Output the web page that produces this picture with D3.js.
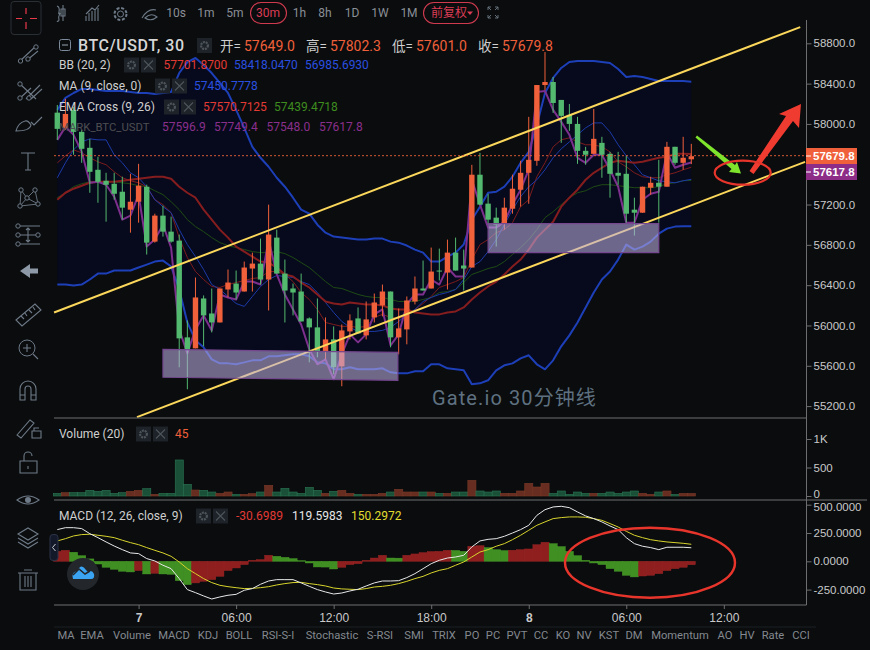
<!DOCTYPE html>
<html><head><meta charset="utf-8">
<script src="https://cdnjs.cloudflare.com/ajax/libs/d3/7.8.5/d3.min.js"></script>
<style>html,body{margin:0;padding:0;background:#0a0c0e;overflow:hidden}svg{display:block}</style>
</head><body><div id="c"></div>
<script>
// ---------- data ----------
const opens=[58112,57961,58139,57921,57763,57545,57436,57406,57327,57149,57228,57377,56832,57090,56931,56842,55882,55773,56268,56119,56030,56357,56416,56337,56565,56614,56456,56872,56515,56367,56337,56070,55981,55743,55862,55595,55941,56070,55902,56080,56199,56337,55882,55961,56238,56367,56367,56545,56525,56723,56595,56575,57496,57209,57070,57010,57159,57347,57515,57634,58386,58416,58238,58090,58000,57733,57703,57812,57703,57515,57505,57149,57119,57367,57416,57377,57773,57614,57649];
const closes=[57951,58099,57921,57753,57525,57426,57396,57307,57169,57228,57387,56822,57090,56931,56832,55872,55763,56278,56100,56030,56367,56426,56327,56575,56614,56456,56902,56515,56347,56327,56040,55981,55743,55862,55585,55951,56050,55921,56060,56228,56337,55882,55971,56248,56367,56347,56535,56535,56723,56545,56565,57496,57199,57050,57000,57169,57357,57515,57644,58386,58416,58208,58080,58000,57733,57694,57852,57694,57505,57486,57109,57119,57377,57416,57377,57773,57614,57664,57679.8];
const highs=[58188,58248,58169,57941,57852,57674,57515,57515,57476,57505,57604,57397,57109,57189,57080,56902,56050,56476,56298,56367,56367,56555,56545,56634,56723,56862,57199,56951,56654,56416,56515,56080,56268,56080,55991,56010,56110,56179,56238,56317,56406,56337,56169,56288,56486,56644,56773,56763,56852,56872,56753,57594,57713,57307,57169,57268,57496,57634,58070,58386,58713,58466,58238,58198,58070,57773,58149,57872,57723,57723,57684,57268,57377,57476,57644,57822,57773,57872,57802.3];
const lows=[57842,57941,57694,57614,57317,57218,57030,57248,57050,56921,57020,56704,56822,56882,56822,55585,55367,55773,55793,55931,56030,56278,56258,56337,56337,56406,56149,56515,56030,56100,56040,55634,55684,55664,55515,55397,55862,55921,55862,56030,56090,55783,55713,55813,56209,56347,56367,56446,56357,56545,56347,56575,57199,57000,56783,56951,57109,57179,57208,57585,58337,58109,57812,57931,57604,57595,57703,57466,57268,57396,57020,56892,57119,57297,57020,57377,57595,57545,57601];
const volumes=[47,58,58,58,100,82,100,47,58,82,100,129,29,47,47,632,205,105,100,70,47,70,29,29,41,70,187,70,135,70,47,152,100,47,82,100,47,29,29,29,47,70,117,70,70,70,70,47,47,70,70,275,88,70,88,47,47,88,222,158,222,47,88,29,70,47,47,47,70,47,70,88,47,29,70,88,29,45,45];
const bbUpper=[58139,58258,58307,58347,58347,58337,58327,58327,58327,58317,58307,58307,58297,58307,58317,58505,58614,58654,58585,58505,58406,58307,58139,57961,57773,57664,57575,57466,57377,57268,57149,57109,57000,56921,56882,56872,56862,56852,56852,56862,56862,56832,56822,56793,56753,56723,56634,56634,56684,56723,56803,57050,57179,57317,57327,57377,57476,57614,57723,57990,58307,58456,58555,58614,58624,58624,58624,58614,58604,58545,58466,58476,58466,58446,58426,58426,58426,58426,58418];
const bbMid=[57248,57317,57357,57387,57416,57426,57426,57426,57436,57446,57456,57466,57476,57476,57456,57377,57317,57268,57149,57050,56951,56872,56783,56733,56684,56634,56624,56575,56506,56486,56426,56377,56308,56238,56218,56209,56228,56218,56209,56209,56199,56169,56159,56159,56129,56119,56110,56110,56129,56139,56179,56258,56327,56387,56436,56506,56585,56654,56753,56872,56951,57030,57179,57268,57347,57446,57515,57565,57614,57634,57624,57614,57624,57644,57664,57674,57703,57703,57702];
const bbLower=[56406,56406,56397,56406,56456,56515,56515,56545,56545,56545,56575,56604,56634,56644,56585,56357,56030,55852,55783,55664,55624,55624,55615,55634,55654,55654,55694,55694,55704,55714,55714,55694,55634,55624,55565,55565,55585,55565,55565,55565,55575,55535,55525,55525,55545,55545,55615,55615,55575,55565,55555,55417,55426,55456,55555,55605,55624,55674,55704,55615,55565,55654,55793,55902,56030,56179,56327,56456,56535,56654,56803,56753,56783,56832,56911,56961,56981,56985.7,56985.7];
const ma9=[57466,57614,57743,57822,57852,57842,57842,57694,57614,57515,57466,57377,57248,57179,57119,56951,56803,56684,56555,56406,56357,56288,56218,56189,56288,56387,56456,56496,56486,56476,56436,56406,56327,56228,56129,56040,55981,55941,55941,55941,55951,55981,56040,56110,56159,56238,56278,56308,56327,56357,56456,56585,56634,56733,56852,57000,57149,57278,57377,57446,57545,57664,57753,57822,57892,57961,58010,58010,57921,57793,57684,57595,57496,57466,57436,57426,57416,57436,57450.8];
const ema9=[57614,57684,57743,57713,57664,57624,57595,57525,57466,57436,57416,57377,57248,57199,57119,56872,56674,56535,56456,56387,56377,56406,56426,56446,56466,56476,56535,56535,56506,56436,56327,56258,56159,56030,56010,55991,55991,55981,55991,56080,56110,56080,56070,56100,56159,56218,56288,56377,56406,56436,56476,56654,56803,56852,56921,56951,57020,57179,57248,57476,57614,57773,57842,57862,57822,57793,57793,57773,57723,57624,57575,57515,57476,57466,57466,57496,57515,57545,57570.7];
const ema26=[57268,57317,57377,57406,57426,57426,57426,57426,57416,57406,57387,57377,57337,57298,57228,57149,57050,56981,56931,56872,56822,56793,56773,56753,56733,56723,56723,56733,56713,56674,56624,56575,56506,56436,56377,56367,56337,56308,56288,56278,56278,56258,56238,56238,56238,56258,56278,56327,56337,56357,56426,56506,56535,56565,56585,56634,56704,56773,56852,56951,57070,57129,57199,57268,57317,57337,57377,57397,57397,57387,57377,57367,57367,57367,57377,57406,57416,57436,57439.5];
const markClose=[57842,57971,57892,57723,57416,57426,57397,57278,57050,57090,57298,56783,56852,57000,56773,55961,55723,55961,56100,55951,56308,56278,56258,56436,56436,56406,56852,56506,56308,56159,56010,55763,55615,55664,55466,55714,55912,55832,55912,56110,56159,55803,55912,56209,56308,56308,56456,56406,56575,56486,56486,57446,57199,56971,56971,57030,57199,57347,57545,58317,58327,58139,58020,57892,57664,57614,57694,57694,57545,57377,57020,57020,57248,57307,57327,57713,57565,57595,57617.8];
const macdHist=[88,97,80,50,21,-24,-53,-71,-88,-94,-82,-112,-106,-112,-115,-171,-206,-191,-177,-162,-133,-82,-59,-29,9,15,53,44,35,24,6,-15,-50,-51,-68,-53,-29,-21,9,29,53,29,28,53,65,77,86,88,97,96,88,133,138,121,103,95,98,103,109,147,168,156,130,88,50,9,-15,-29,-65,-88,-124,-138,-130,-124,-109,-82,-65,-53,-30.7];
const macdLine=[280,297,297,289,244,209,171,135,103,74,68,24,3,-35,-65,-153,-250,-277,-306,-333,-315,-300,-292,-256,-241,-203,-174,-162,-162,-162,-191,-221,-250,-271,-289,-280,-262,-247,-218,-191,-174,-174,-171,-144,-109,-65,-21,9,29,38,53,127,180,194,200,221,250,280,318,406,456,480,486,474,436,401,377,348,312,280,209,156,133,121,103,124,124,124,119.6];
const macdSignal=[180,200,224,236,239,230,221,209,186,165,147,121,97,74,44,-6,-65,-109,-153,-188,-212,-224,-233,-241,-239,-233,-224,-209,-197,-188,-186,-197,-206,-218,-236,-244,-247,-250,-241,-227,-221,-212,-197,-177,-153,-133,-103,-80,-65,-35,-6,38,82,103,133,156,191,230,274,318,348,377,386,392,392,389,377,362,333,303,265,230,209,191,180,171,165,159,150.3];
const priceTicks=[58800,58400,58000,57200,56800,56400,56000,55600,55200];
const priceTickLabels=["58800.0","58400.0","58000.0","57200.0","56800.0","56400.0","56000.0","55600.0","55200.0"];
const volumeTicks=[0,500,1000];
const volumeTickLabels=["0","500","1K"];
const macdTicks=[500,250,0,-250];
const macdTickLabels=["500.0000","250.0000","0.0000","-250.0000"];
const timeTickBars=[10,22,34,46,58,70,82];
const timeTickLabels=["7","06:00","12:00","18:00","8","06:00","12:00"];
const channelUpper=[[-0.4,56129],[91.4,58961]];
const channelLower=[[9.8,55090],[92,57624]];
const zoneA=[[13,55763],[41.9,55733],[41.9,55456],[13,55486]];
const zoneB=[[53,57010],[74,57010],[74,56723],[53,56723]];
const intervals=["10s","1m","5m","30m","1h","8h","1D","1W","1M"];
const indicatorNames=["MA","EMA","Volume","MACD","KDJ","BOLL","RSI-S-I","Stochastic","S-RSI","SMI","TRIX","PO","PC","PVT","CC","KO","NV","KST","DM","Momentum","AO","HV","Rate","CCI"];

// ---------- layout ----------
const W=870,H=650,AX=806.5;
const UI="Roboto,'Noto Sans CJK SC',sans-serif", AXF="'Liberation Sans',Arial,sans-serif";
const ORANGE="#f0603a",GREEN="#53b96f",GRID="#6e6e6e",TXT="#c9c9c9";
const svg=d3.select("#c").append("svg").attr("width",W).attr("height",H).attr("viewBox",`0 0 ${W} ${H}`);
svg.append("rect").attr("width",W).attr("height",H).attr("fill","#0a0c0e");
const idx=d3.range(opens.length);
const x=d3.scaleLinear().domain([0,78]).range([57.3,691.3]);
const y=d3.scaleLinear().domain([55200,58800]).range([406.1,43.3]);
const yV=d3.scaleLinear().domain([0,1000]).range([496,439]);
const yM=d3.scaleLinear().domain([-250,500]).range([589.6,504.7]);

// main pane
const main=svg.append("g");
main.append("path").datum(idx).attr("fill","#070a1c")
  .attr("d",d3.area().x(i=>x(i)).y0(i=>y(bbLower[i])).y1(i=>y(bbUpper[i])));
function series(g,arr,col,w,scale=y){
  g.append("path").datum(arr).attr("fill","none").attr("stroke",col).attr("stroke-width",w)
   .attr("stroke-linejoin","round").attr("d",d3.line().x((d,i)=>x(i)).y(d=>scale(d)));
}
series(main,ema26,"#1e4a14",1);
series(main,ema9,"#7c1c1c",1);
series(main,ma9,"#1c3aa8",1);
series(main,bbMid,"#851d1f",2);
series(main,bbUpper,"#1d3fb8",2);
series(main,bbLower,"#1d3fb8",2);
series(main,markClose,"#7c2f8c",2);
const col=i=>closes[i]>=opens[i]?ORANGE:GREEN;
const candle=main.selectAll("g.k").data(idx).join("g").attr("class","k");
candle.append("line").attr("x1",i=>x(i)).attr("x2",i=>x(i)).attr("y1",i=>y(highs[i])).attr("y2",i=>y(lows[i])).attr("stroke",col).attr("stroke-width",1);
candle.append("rect").attr("x",i=>x(i)-2.7).attr("width",5.4)
  .attr("y",i=>y(Math.max(opens[i],closes[i])))
  .attr("height",i=>Math.max(1,Math.abs(y(opens[i])-y(closes[i])))).attr("fill",col);
const lineXY=d3.line().x(d=>x(d[0])).y(d=>y(d[1]));
[channelUpper,channelLower].forEach(c=>main.append("path").datum(c).attr("d",lineXY).attr("stroke","#fbd75b").attr("stroke-width",2).attr("fill","none"));
[zoneA,zoneB].forEach(z=>main.append("path").datum(z).attr("d",d=>lineXY(d)+"Z").attr("fill","rgba(188,174,225,0.57)").attr("stroke","#74478f").attr("stroke-width",1.2));
// last price
main.append("line").attr("x1",54).attr("x2",AX).attr("y1",y(closes[78])-.5).attr("y2",y(closes[78])-.5).attr("stroke",ORANGE).attr("stroke-width",1).attr("stroke-dasharray","2 2").attr("opacity",.9);
// watermark
svg.append("text").attr("x",432).attr("y",405).attr("fill","#5f7180").attr("font-family",UI).attr("font-size",20).attr("letter-spacing",1.1).text("Gate.io 30分钟线");

// volume pane
const vc=i=>closes[i]>=opens[i];
svg.append("g").selectAll("rect").data(idx).join("rect")
  .attr("x",i=>x(i)-4).attr("width",8.1).attr("y",i=>yV(volumes[i])).attr("height",i=>yV(0)-yV(volumes[i]))
  .attr("fill",i=>vc(i)?"#672d20":"#1b5038").attr("stroke",i=>vc(i)?"#7a3a28":"#2a7553").attr("stroke-width",.6);

// macd pane
const rising=i=>i<2||macdHist[i]>macdHist[i-1];
svg.append("g").selectAll("rect").data(idx).join("rect")
  .attr("x",i=>x(i)-4).attr("width",8.1).attr("y",i=>yM(Math.max(0,macdHist[i]))).attr("height",i=>Math.abs(yM(macdHist[i])-yM(0)))
  .attr("fill",i=>rising(i)?"#8f1e1e":"#3f8f22").attr("stroke",i=>rising(i)?"#a02828":"#4ba02c").attr("stroke-width",.4);
series(svg,macdSignal,"#d8d42c",1,yM);
series(svg,macdLine,"#e8e8e8",1,yM);

// axes frame
[[54,418,AX,418],[54,500,867,500],[54,605,AX,605],[AX,20,AX,605]].forEach(l=>svg.append("line").attr("x1",l[0]).attr("y1",l[1]).attr("x2",l[2]).attr("y2",l[3]).attr("stroke",GRID).attr("stroke-width",1));
svg.append("line").attr("x1",54).attr("x2",816).attr("y1",627).attr("y2",627).attr("stroke","#1c2024");
function rightAxis(scale,ticks,labels,nudge){
  const g=svg.append("g").attr("transform",`translate(${AX},0)`);
  const ax=d3.axisRight(scale).tickValues(ticks).tickSize(5).tickPadding(2).tickFormat((d,i)=>labels[i]);
  g.call(ax);
  g.select(".domain").remove();
  g.selectAll("line").attr("stroke",GRID);
  g.selectAll("text").attr("fill",TXT).attr("font-family",AXF).attr("font-size",11.5)
   .attr("y",d=>nudge&&nudge[d]?nudge[d]:0);
}
rightAxis(y,priceTicks,priceTickLabels);
rightAxis(yV,volumeTicks,volumeTickLabels,{0:-2.2});
rightAxis(yM,macdTicks,macdTickLabels,{500:2.2});
const gT=svg.append("g").attr("transform","translate(0,605)");
gT.call(d3.axisBottom(x).tickValues(timeTickBars).tickSize(4).tickPadding(4).tickFormat((d,i)=>timeTickLabels[i]));
gT.select(".domain").remove();
gT.selectAll("line").attr("stroke",GRID);
gT.selectAll("text").attr("fill",TXT).attr("font-family",AXF).attr("font-size",12)
  .attr("font-weight",(d,i)=>timeTickLabels[i].length==1?"700":"400");

// price tags
[[closes[78],ORANGE,"57679.8",148],[markClose[78],"#8d2d88","57617.8",164]].forEach(t=>{
  svg.append("rect").attr("x",806).attr("y",t[3]).attr("width",51).attr("height",16).attr("fill",t[1]);
  svg.append("line").attr("x1",806).attr("x2",811).attr("y1",t[3]+8).attr("y2",t[3]+8).attr("stroke","#fff");
  svg.append("text").attr("x",813).attr("y",t[3]+12).attr("fill","#fff").attr("font-family",AXF).attr("font-size",11.5).attr("font-weight",700).text(t[2]);
});

// legend
const T=(xx,yy,s,c,fs=12,extra={})=>{const e=svg.append("text").attr("x",xx).attr("y",yy).attr("fill",c).attr("font-family",UI).attr("font-size",fs).text(s);Object.entries(extra).forEach(([k,v])=>e.attr(k,v));return e;};
const RED="#e33a35",BLUE="#2a50e0",GR2="#3f8c1f",PUR="#8a2f8c",W1="#cfcfcf";
function iconBtns(xx,yy,one){
  const gear=(cx)=>{svg.append("rect").attr("x",cx-7.5).attr("y",yy-7.5).attr("width",15).attr("height",15).attr("fill","#1d2328");
    svg.append("circle").attr("cx",cx).attr("cy",yy).attr("r",3.4).attr("fill","none").attr("stroke","#4d545b").attr("stroke-width",2.2).attr("stroke-dasharray","2 .8");};
  gear(xx+7.5);
  if(one)return;
  const c=xx+24.5;
  svg.append("rect").attr("x",c-7.5).attr("y",yy-7.5).attr("width",15).attr("height",15).attr("fill","#1d2328");
  svg.append("path").attr("d",`M${c-4.5} ${yy-4.5}L${c+4.5} ${yy+4.5}M${c+4.5} ${yy-4.5}L${c-4.5} ${yy+4.5}`).attr("stroke","#4d545b").attr("stroke-width",1.1);
}
svg.append("rect").attr("x",59.5).attr("y",39.5).attr("width",11).attr("height",11).attr("rx",2).attr("fill","none").attr("stroke","#7d8b9c");
svg.append("line").attr("x1",62).attr("x2",68).attr("y1",45).attr("y2",45).attr("stroke","#9aa5b0");
T(78,51,"BTC/USDT, 30","#d6d6d6",16,{"font-weight":500,"letter-spacing":.55});
iconBtns(197,45.5,true);
T(220,51,"开=",W1,13.500);T(244,51,"57649.0",ORANGE,14);
T(306,51,"高=",W1,13.500);T(330,51,"57802.3",ORANGE,14);
T(392,51,"低=",W1,13.500);T(416,51,"57601.0",ORANGE,14);
T(478,51,"收=",W1,13.500);T(502,51,"57679.8",ORANGE,14);
T(59,69,"BB (20, 2)",W1);iconBtns(124,65);
T(163.5,69,"57701.8700",RED);T(234,69,"58418.0470",BLUE);T(305,69,"56985.6930",BLUE);
T(59,90,"MA (9, close, 0)",W1);iconBtns(155,86);
T(194,90,"57450.7778",BLUE);
T(59,111,"EMA Cross (9, 26)",W1);iconBtns(164,107);
T(203,111,"57570.7125",RED);T(274,111,"57439.4718",GR2);
T(59,131,"MARK_BTC_USDT","#4e4e52",11.300);
T(162,131,"57596.9",PUR);T(214,131,"57749.4",PUR);T(266.5,131,"57548.0",PUR);T(319,131,"57617.8",PUR);
T(59,438,"Volume (20)",W1);iconBtns(136,434);T(175,438,"45",ORANGE);
T(59,520,"MACD (12, 26, close, 9)",W1);iconBtns(196,516);
T(236,520,"-30.6989",RED);T(292,520,"119.5983","#e6e6e6");T(351,520,"150.2972","#e2dd2e");

// annotations
svg.append("path").attr("d","M695.500 137.500L697 135.500L735 165L737 162L741 173.500L729 172L731.500 169Z").attr("fill","#7fe52c");
svg.append("path").attr("d","M749.500 171L786 116L779 114L801 104L799 128L793 121L753.500 174Z").attr("fill","#f03b30");
svg.append("ellipse").attr("cx",742.7).attr("cy",172.7).attr("rx",28).attr("ry",12).attr("fill","none").attr("stroke","#e8352c").attr("stroke-width",2.2);
svg.append("ellipse").attr("cx",650).attr("cy",562.7).attr("rx",85).attr("ry",35).attr("fill","none").attr("stroke","#e8352c").attr("stroke-width",2.4);

// top bar
svg.append("rect").attr("x",11).attr("y",1.5).attr("width",30).attr("height",33).attr("rx",3).attr("fill","none").attr("stroke","#2a2f35");
svg.append("path").attr("d","M26 8V14M26 22V29M16 18.5H22M30 18.500H37").attr("stroke","#e8394b").attr("stroke-width",1.2);
const ICON="#6e7a87";
const tbX=[176,206,235,268,299.5,325,352,380,409];
intervals.forEach((s,i)=>{
  svg.append("text").attr("x",tbX[i]).attr("y",17).attr("text-anchor","middle").attr("fill",s=="30m"?"#dc3c55":"#8a8f96").attr("font-family",UI).attr("font-size",12).text(s);
});
svg.append("rect").attr("x",250.5).attr("y",2.500).attr("width",36).attr("height",21).attr("rx",10.5).attr("fill","none").attr("stroke","#cf3a4f").attr("stroke-width",1.1);
svg.append("rect").attr("x",423.5).attr("y",2.500).attr("width",55).attr("height",21).attr("rx",10.5).attr("fill","none").attr("stroke","#cf3a4f").attr("stroke-width",1.1);
T(431,17,"前复权","#dc3c55",12);
svg.append("path").attr("d","M467 11.500H473L470 15Z").attr("fill","#dc3c55");
const stroke=(d,w=1.1)=>svg.append("path").attr("d",d).attr("fill","none").attr("stroke",ICON).attr("stroke-width",w);
stroke("M57 6Q60 7 59 12Q58 15 60 13Q58 17 59 20Q58 22 57 21M63 5V21M61 9H65V16H61Z");
stroke("M86 21V16M89 21V13M92 21V11M95 21V9M98 21V8M86 14L92 8L95 10L99 5");
svg.append("circle").attr("cx",120.5).attr("cy",14).attr("r",3).attr("fill","none").attr("stroke",ICON);
svg.append("circle").attr("cx",120.5).attr("cy",14).attr("r",6).attr("fill","none").attr("stroke",ICON).attr("stroke-width",2).attr("stroke-dasharray","3 1.700");
stroke("M142 18Q148 8 156 10M145 18Q151 12 157 17Q151 22 145 18Z");
stroke("M488 7L491 10M488 7H491M488 7V10M498 7L495 10M498 7H495M498 7V10M488 18L491 15M488 18H491M488 18V15M498 18L495 15M498 18H495M498 18V15",.9);

// left toolbar (each icon is drawn in its own local frame)
const tool=(yy,d,w=1.1)=>{
  const g=svg.append("g").attr("transform",`translate(28,${yy})`);
  g.append("path").attr("d",d).attr("fill","none").attr("stroke",ICON).attr("stroke-width",w);
  return g;
};
const dot=(g,cx,cy,r=2.2)=>g.append("circle").attr("cx",cx).attr("cy",cy).attr("r",r).attr("fill","#0a0c0e").attr("stroke",ICON);
let g0=tool(54,"M-8,7L8,-8M-2,7L10,-3");dot(g0,-7.5,7);dot(g0,8,-7);dot(g0,0,5);
g0=tool(91,"M-9,-8L8,8M-9,8L3,-3M-2,8L12,-6M3,8L14,-2");dot(g0,-8,-7);dot(g0,-8,7);dot(g0,1,7);
tool(123,"M-12,8Q-10,0 -3,-2Q0,-3 3,2Q2,8 -12,8ZM3,-1L6,2L14,-6");
tool(161,"M-7,-8H7M0,-8V9M-3,9H3");
g0=tool(198,"M-8,8L-7,-8L-1,0L7,-8L10,6L-1,0M-8,8L-1,0M-8,8L10,6",.9);dot(g0,-8,8);dot(g0,-7,-8);dot(g0,7,-8);dot(g0,10,6);dot(g0,-1,0);
g0=tool(235,"M-10,-9H12M-8,0H10M-10,9H12M0,-7V7M-2,-5L0,-7L2,-5M-2,5L0,7L2,5");dot(g0,-10,-9);dot(g0,-10,0);dot(g0,10,0);dot(g0,-10,9);
svg.append("path").attr("d","M20 271L30 264V268.500H38V273.500H30V278Z").attr("fill","#8d99a6");
tool(313,"M-12,7L7,-9L13,-3L-6,13ZM-7,3L-4,6M-3,0L-1,3M1,-3L4,0M5,-6L7,-3");
g0=tool(348,"M-5,0H3M-1,-4V4M5,6L10,11");g0.append("circle").attr("cx",-1).attr("cy",0).attr("r",8).attr("fill","none").attr("stroke",ICON);
tool(391,"M-8,9V-2A8,8 0 0 1 8,-2V9H3V-2A3,3 0 0 0 -3,-2V9ZM-8,4H-3M3,4H8");
tool(428,"M-11,7L2,-8L6,-5L-7,10ZM4,3H13V10H4ZM6,3V0H11");
tool(463,"M-8,-2H9V10H-8ZM-4,-2V-7A4,4 0 0 1 4,-7M0,3V6");
g0=tool(500,"M-11,0Q0,-8 11,0Q0,8 -11,0Z");g0.append("circle").attr("r",3).attr("fill",ICON);
tool(536,"M-10,-2L0,-8L10,-2L0,4ZM-10,2L0,8L10,2M-10,6L0,12L10,6");
tool(580,"M-8,-7V10H8V-7M-10,-7H10M-4,-10H4M-3,-4V7M0,-4V7M3,-4V7");

// bottom indicators
const indX=[66,92,132,174,208,239,278,332,380,414,444,472,493,517,541,563,584,609,634,680,725,747,773,801];
indicatorNames.forEach((s,i)=>svg.append("text").attr("x",indX[i]).attr("y",639).attr("text-anchor","middle").attr("fill","#84898f").attr("font-family",UI).attr("font-size",11.2).text(s));

// side handle & logo
svg.append("rect").attr("x",50).attr("y",534.500).attr("width",8).attr("height",26).attr("rx",3).attr("fill","#14192a").attr("stroke","#2b3346");
svg.append("path").attr("d","M55.500 544L52.500 547.500L55.500 551").attr("fill","none").attr("stroke","#c8ccd0");
svg.append("circle").attr("cx",83).attr("cy",574).attr("r",16).attr("fill","#23272c");
svg.append("path").attr("d","M73 579Q71 572 77 571L80 567Q83 565 86 570L88 572Q92 569 94 574Q95 579 91 579Z").attr("fill","#3aa4f2");
svg.append("path").attr("d","M73 575L79 569L85 574L90 571").attr("fill","none").attr("stroke","#23272c").attr("stroke-width",1.600);
</script></body></html>
